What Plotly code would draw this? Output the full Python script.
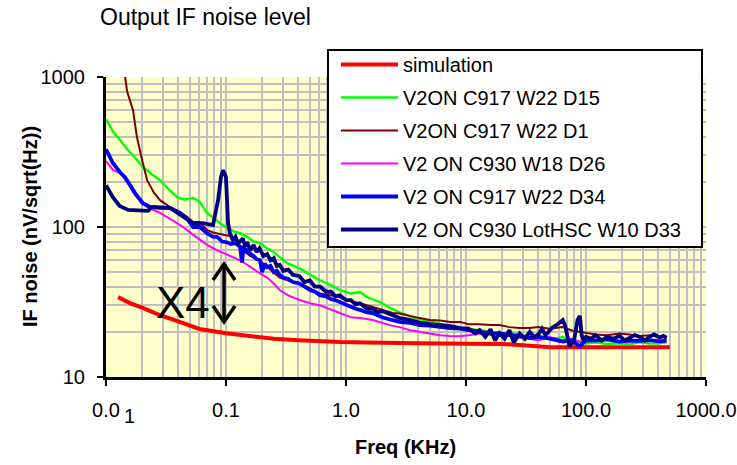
import plotly.graph_objects as go

# ---------------- data ----------------
sim_f = [0.0126, 0.016, 0.02, 0.028, 0.04, 0.06, 0.1, 0.17, 0.25, 0.4, 0.6, 0.9, 1.5, 2.5, 4, 6, 10, 15, 20, 30, 40, 50, 100, 200, 500]
sim_v = [34.1, 31, 29, 25.9, 23.5, 20.9, 19.6, 18.5, 18, 17.6, 17.3, 17.1, 17, 17, 16.8, 16.7, 16.7, 16.6, 16.6, 16.3, 16, 15.8, 15.8, 15.8, 15.8]

d15_f = [0.0100, 0.0115, 0.0131, 0.015, 0.0175, 0.0203, 0.024, 0.0282, 0.033, 0.0391, 0.045, 0.0531, 0.06, 0.0695, 0.078, 0.089, 0.1, 0.115, 0.131, 0.15, 0.17, 0.192, 0.22, 0.25, 0.28, 0.33, 0.41, 0.5, 0.61, 0.75, 0.89, 1.1, 1.31, 1.5, 1.67, 1.92, 2.3, 2.8, 3.4, 4.1, 5.0, 6.1, 7.4, 8.9, 10.5, 13, 16, 19, 23, 28, 34, 40, 45, 55, 64, 75, 89, 100, 120, 150, 190, 230, 280, 340, 410, 470]
d15_v = [525, 430, 380, 330, 290, 251, 225, 205, 180, 158, 152, 156, 148, 124, 116, 106, 100, 94, 91, 86, 80, 78, 72, 68, 63, 57, 53, 48, 44, 41, 38, 36, 36.8, 34, 33, 31.6, 29, 27, 25.5, 24, 23.5, 22.5, 21.8, 21.2, 21, 20.5, 20, 19.5, 19.6, 19.2, 18.5, 19, 18.2, 18, 18.5, 17.5, 17, 16.8, 17, 16.6, 16.8, 16.5, 17, 16.7, 16.8, 17]

d1_f = [0.0142, 0.0150, 0.0168, 0.0181, 0.0200, 0.022, 0.025, 0.0282, 0.0341, 0.04, 0.0473, 0.0531, 0.06, 0.0695, 0.078, 0.09, 0.102, 0.115, 0.123, 0.131, 0.144, 0.16, 0.19, 0.22, 0.25, 0.28, 0.33, 0.41, 0.5, 0.61, 0.75, 0.89, 1.1, 1.31, 1.67, 2.0, 2.46, 2.8, 3.4, 4.1, 5.0, 6.1, 7.4, 8.9, 10.5, 13, 16, 19, 23, 28, 34, 40, 50, 64, 75, 89, 100, 120, 150, 190, 230, 280, 340, 410, 470]
d1_v = [1100, 800, 600, 398, 280, 205, 170, 151, 136, 125, 117, 108, 108, 95.5, 92, 90, 88, 86, 80, 72, 68, 64, 60, 54, 50, 46, 44, 42, 39, 36, 35, 34, 32, 31, 29.3, 28, 26.7, 26.5, 25.5, 24.7, 24, 23.8, 23.3, 23.3, 22.5, 22.5, 22.2, 22.2, 21.5, 21.2, 21.2, 21.5, 21, 21.5, 20.5, 20, 19.5, 19.2, 19, 19.5, 19.2, 18.8, 19, 18.5, 18.2]

d26_f = [0.0100, 0.0114, 0.0131, 0.0150, 0.0168, 0.0196, 0.022, 0.0282, 0.035, 0.0439, 0.052, 0.0606, 0.0695, 0.0842, 0.1, 0.115, 0.131, 0.15, 0.17, 0.192, 0.22, 0.25, 0.28, 0.33, 0.41, 0.5, 0.61, 0.75, 0.89, 1.1, 1.31, 1.67, 2.0, 2.4, 2.8, 3.4, 4.1, 5.0, 6.1, 7.4, 8.9, 10.5, 13, 16, 19, 23, 28, 34, 40, 50, 64, 75, 89, 100]
d26_v = [275, 240, 229, 200, 171, 145, 136, 124, 112, 100, 90, 82, 76, 70, 66, 63, 60, 56, 52, 49, 46, 42, 38, 35, 32.6, 31, 30, 28, 26.7, 25, 24.7, 24, 23, 22, 21.5, 20.5, 20, 19.5, 19, 18.8, 18.7, 19, 19.5, 19.2, 19.5, 18.8, 19, 18, 17.5, 18.5, 17.5, 18, 17.2, 17.5]

d34_f = [0.0100, 0.0114, 0.0132, 0.0144, 0.0174, 0.0203, 0.0233, 0.028, 0.0341, 0.0414, 0.047, 0.0531, 0.0606, 0.0695, 0.078, 0.0842, 0.093, 0.102, 0.11, 0.12, 0.131, 0.136, 0.14, 0.15, 0.16, 0.17, 0.18, 0.192, 0.2, 0.21, 0.22, 0.235, 0.25, 0.265, 0.28, 0.3, 0.33, 0.36, 0.41, 0.45, 0.5, 0.55, 0.61, 0.68, 0.75, 0.82, 0.89, 1.0, 1.1, 1.2, 1.31, 1.5, 1.67, 2.0, 2.4, 2.8, 3.4, 4.1, 5.0, 6.1, 7.4, 8.9, 10.5, 13, 16, 19, 23, 28, 34, 40, 50, 64, 75, 89, 100, 120, 150, 190, 230, 280, 340, 410, 470]
d34_v = [330, 267, 230, 215, 169, 144, 136, 134, 134, 124, 115, 100, 100, 91, 86, 86, 80, 79, 77, 78, 74, 58, 72, 70, 66, 64, 61, 60, 50, 57, 54, 55, 50, 51, 48, 46, 45, 43, 42, 40, 38, 37, 35, 34.5, 33, 32.5, 31.6, 30, 29, 28.5, 28, 27, 26.7, 25, 24, 23.3, 23, 22.2, 22, 21.5, 21.2, 21, 20.5, 20, 19.5, 19.5, 19, 18.5, 18.2, 18.5, 18, 17.2, 17.6, 16, 17.6, 17.5, 17.8, 17.2, 17.5, 17.4, 17.6, 17.3, 17.5]

d33_f = [0.0100, 0.0114, 0.0130, 0.0153, 0.0224, 0.0242, 0.0341, 0.0439, 0.0531, 0.0643, 0.078, 0.0859, 0.0909, 0.0944, 0.0999, 0.102, 0.104, 0.108, 0.114, 0.12, 0.126, 0.131, 0.138, 0.144, 0.15, 0.16, 0.17, 0.18, 0.19, 0.205, 0.22, 0.235, 0.25, 0.265, 0.28, 0.3, 0.33, 0.36, 0.41, 0.45, 0.5, 0.55, 0.61, 0.68, 0.75, 0.82, 0.89, 1.0, 1.1, 1.2, 1.31, 1.5, 1.67, 1.85, 2.0, 2.4, 2.8, 3.4, 4.1, 5.0, 6.1, 7.4, 8.9, 10.5, 12, 13, 14.5, 16, 17.5, 19, 21, 23, 25, 28, 31, 34, 37, 40, 43, 46, 50, 53, 56, 60, 64, 67, 70, 73, 77, 80, 85, 89, 92, 96, 100, 110, 120, 135, 150, 170, 190, 210, 230, 255, 280, 310, 340, 370, 410, 440, 470]
d33_v = [190, 158, 138, 130, 128, 136, 134, 117, 106, 106, 103, 151, 216, 239, 216, 151, 106, 90, 82, 86, 78, 80, 84, 74, 79, 70, 76, 68, 72, 64, 66, 60, 62, 55, 56, 51, 52, 48, 47, 43, 44, 40, 40, 37, 37, 34.5, 35, 32.5, 32.5, 30.5, 31, 28.5, 28.5, 27, 27.5, 26, 24.7, 24, 23, 22.5, 22.2, 21.8, 21.2, 21, 19.5, 20.5, 18.5, 20.8, 17.5, 19.6, 18, 20.5, 17, 19.5, 18, 20, 18.5, 19.2, 21, 19, 20.5, 21.5, 22, 23, 24, 22, 19, 16, 17, 18, 24, 25.5, 19, 17.5, 18.5, 18, 19, 17.5, 18.5, 18, 18.8, 17.5, 18.2, 19, 18.5, 17.5, 18.6, 19.2, 18.3, 18.8, 18.3]

names = ["simulation", "V2ON C917 W22 D15", "V2ON C917 W22 D1", "V2 ON C930 W18 D26", "V2 ON C917 W22 D34", "V2 ON C930 LotHSC W10 D33"]
x_tickvals = [0.01, 0.1, 1, 10, 100, 1000]
x_ticktext = ["0.0", "0.1", "1.0", "10.0", "100.0", "1000.0"]
y_tickvals = [10, 100, 1000]
y_ticktext = ["10", "100", "1000"]

# ---------------- figure ----------------
FONT = "Arial, Liberation Sans, sans-serif"
L, T, PW, PH = 106, 77, 600, 300   # plot area in pixels


def px(x):
    return (x - L) / PW


def py(y):
    return (T + PH - y) / PH


series = [
    (sim_f, sim_v, "#FF0000", 4),
    (d15_f, d15_v, "#00FF00", 2.4),
    (d1_f, d1_v, "#800000", 2),
    (d26_f, d26_v, "#FF00FF", 2),
    (d34_f, d34_v, "#0000FF", 3.8),
    (d33_f, d33_v, "#000080", 3.8),
]

fig = go.Figure()
for i, (fx, fy, col, w) in enumerate(series):
    fig.add_trace(go.Scatter(x=fx, y=fy, mode="lines", name=names[i],
                             legendgroup="g%d" % i,
                             line=dict(color=col, width=w)))


def minor_vals(lo, hi):
    out = []
    for e in range(lo, hi):
        for m in range(2, 10):
            out.append(m * 10 ** e)
    return out


grid = "#C0C0C0"
fig.update_xaxes(type="log", range=[-2, 3], tickvals=x_tickvals, ticktext=x_ticktext,
                 showgrid=True, gridcolor=grid, gridwidth=2,
                 minor=dict(tickvals=minor_vals(-2, 3), showgrid=True, gridcolor=grid, gridwidth=2, ticks=""),
                 ticks="outside", ticklen=6, tickwidth=2, tickcolor="black",
                 showline=True, linecolor="black", linewidth=3, mirror=False,
                 zeroline=False, ticklabelstandoff=7,
                 tickfont=dict(family=FONT, size=20, color="black"))
fig.update_yaxes(type="log", range=[1, 3], tickvals=y_tickvals, ticktext=y_ticktext,
                 showgrid=True, gridcolor=grid, gridwidth=2,
                 minor=dict(tickvals=minor_vals(1, 3), showgrid=True, gridcolor=grid, gridwidth=2, ticks=""),
                 ticks="outside", ticklen=6, tickwidth=2, tickcolor="black",
                 showline=True, linecolor="black", linewidth=3, mirror=False,
                 zeroline=False, ticklabelstandoff=8,
                 tickfont=dict(family=FONT, size=20, color="black"))

annotations = [
    dict(text="IF noise (nV/sqrt(Hz))", xref="paper", yref="paper", x=px(30), y=0.5,
         textangle=-90, showarrow=False, xanchor="center", yanchor="middle",
         font=dict(family=FONT, size=20, color="black", weight="bold")),
    dict(text="Freq (KHz)", xref="paper", yref="paper", x=px(405), y=py(447),
         showarrow=False, xanchor="center", yanchor="middle",
         font=dict(family=FONT, size=20, color="black", weight="bold")),
    dict(text="1", xref="paper", yref="paper", x=px(129), y=py(416),
         showarrow=False, xanchor="center", yanchor="middle",
         font=dict(family=FONT, size=20, color="black")),
    dict(text="X4", xref="paper", yref="paper", x=px(183), y=py(302),
         showarrow=False, xanchor="center", yanchor="middle",
         font=dict(family=FONT, size=44, color="black")),
]

shapes = [
    # legend box
    dict(type="rect", xref="paper", yref="paper", x0=px(328), x1=px(702), y0=py(247), y1=py(50),
         fillcolor="white", line=dict(color="black", width=2), layer="above"),
    # double arrow
    dict(type="line", xref="paper", yref="paper", x0=px(224), x1=px(224), y0=py(264), y1=py(322),
         line=dict(color="black", width=3.5), layer="above"),
    dict(type="path", xref="paper", yref="paper",
         path="M%f,%f L%f,%f L%f,%f" % (px(213), py(280), px(224), py(264), px(235), py(280)),
         line=dict(color="black", width=3.5), layer="above"),
    dict(type="path", xref="paper", yref="paper",
         path="M%f,%f L%f,%f L%f,%f" % (px(213), py(306), px(224), py(322), px(235), py(306)),
         line=dict(color="black", width=3.5), layer="above"),
]

fig.update_layout(
    width=737, height=465,
    margin=dict(l=L, r=737 - L - PW, t=T, b=465 - T - PH, autoexpand=False),
    paper_bgcolor="white", plot_bgcolor="#FFFFCC",
    title=dict(text="Output IF noise level", x=100 / 737, xanchor="left",
               y=1 - 17 / 465, yanchor="middle", xref="container", yref="container",
               font=dict(family=FONT, size=23, color="black")),
    legend=dict(x=px(336), y=py(45), xanchor="left", yanchor="top",
                bgcolor="rgba(0,0,0,0)", borderwidth=0,
                font=dict(family=FONT, size=20, color="black"),
                itemwidth=57, tracegroupgap=4, traceorder="grouped"),
    annotations=annotations,
    shapes=shapes,
    showlegend=True,
)

fig.write_html("out.html", config={"displayModeBar": False},
               post_script="document.body.style.margin='0';")
